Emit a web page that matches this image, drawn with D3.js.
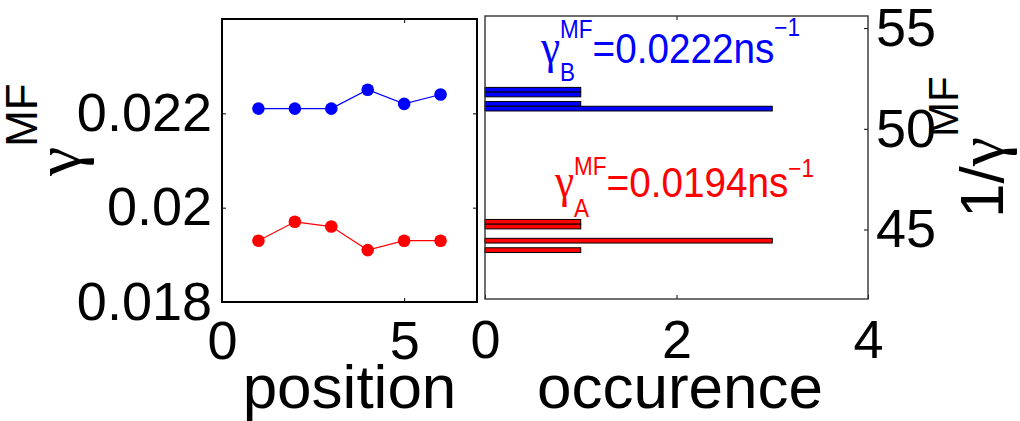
<!DOCTYPE html>
<html>
<head>
<meta charset="utf-8">
<script src="https://cdn.jsdelivr.net/npm/d3@7"></script>
<style>
  body { margin: 0; background: #fff; }
  svg text { font-family: "Liberation Sans", Arial, sans-serif; }
</style>
</head>
<body>
<div id="chart"></div>
<script>
// measured decay rates per position (ns^-1)
const positions = [1, 2, 3, 4, 5, 6];
const gammaB = [0.0221, 0.0221, 0.0221, 0.0225, 0.0222, 0.0224];
const gammaA = [0.0193, 0.0197, 0.0196, 0.0191, 0.0193, 0.0193];

const posTicks = [0, 5];
const gammaTicks = [0.018, 0.02, 0.022];
const countTicks = [0, 2, 4];
const invTicks = [45, 50, 55];

const width = 1020, height = 421;
const FONT = '"Liberation Sans", Arial, sans-serif';
const GREEK = '"Liberation Serif", "DejaVu Serif", serif';

const svg = d3.select('#chart')
  .append('svg')
  .attr('width', width)
  .attr('height', height)
  .attr('viewBox', `0 0 ${width} ${height}`);

// left panel scales
const xPos = d3.scaleLinear().domain([0, 7]).range([222, 477]);
const yGamma = d3.scaleLinear().domain([0.018, 0.024]).range([302, 19]);
// right panel scales
const xCount = d3.scaleLinear().domain([0, 4]).range([485, 868]);
const yInv = d3.scaleLinear().domain([41.55, 55.6]).range([299, 16]);

function styleAxis(g, size) {
  g.attr('font-size', size).attr('font-family', FONT).attr('color', '#000');
  g.select('.domain').remove();
}

// ---- left panel ----
const left = svg.append('g');

left.append('g')
  .attr('transform', 'translate(222,0)')
  .call(d3.axisLeft(yGamma).tickValues(gammaTicks)
    .tickFormat(d => String(+d.toFixed(3)))
    .tickSizeInner(-4).tickSizeOuter(0).tickPadding(10))
  .call(g => styleAxis(g, 54));
left.append('g')
  .attr('transform', 'translate(477,0)')
  .call(d3.axisRight(yGamma).tickValues(gammaTicks).tickFormat('')
    .tickSizeInner(-4).tickSizeOuter(0))
  .call(g => styleAxis(g, 54));
left.append('g')
  .attr('transform', 'translate(0,302)')
  .call(d3.axisBottom(xPos).tickValues(posTicks).tickFormat(d3.format('d'))
    .tickSizeInner(-4).tickSizeOuter(0).tickPadding(19))
  .call(g => styleAxis(g, 54));
left.append('g')
  .attr('transform', 'translate(0,19)')
  .call(d3.axisTop(xPos).tickValues(posTicks).tickFormat('')
    .tickSizeInner(-4).tickSizeOuter(0))
  .call(g => styleAxis(g, 54));

left.append('rect')
  .attr('x', xPos(0)).attr('y', yGamma(0.024))
  .attr('width', xPos(7) - xPos(0))
  .attr('height', yGamma(0.018) - yGamma(0.024))
  .attr('fill', 'none').attr('stroke', '#000').attr('stroke-width', 2);

const series = [
  { values: gammaB, color: '#0000ff' },
  { values: gammaA, color: '#ff0000' }
];

const line = d3.line()
  .x((d, i) => xPos(positions[i]))
  .y(d => yGamma(d));

series.forEach(s => {
  left.append('path')
    .attr('d', line(s.values))
    .attr('fill', 'none')
    .attr('stroke', s.color)
    .attr('stroke-width', 1.2);
  left.selectAll(null)
    .data(s.values)
    .enter()
    .append('circle')
    .attr('cx', (d, i) => xPos(positions[i]))
    .attr('cy', d => yGamma(d))
    .attr('r', 6.3)
    .attr('fill', s.color);
});

// ---- right panel ----
const right = svg.append('g');

right.append('g')
  .attr('transform', 'translate(868,0)')
  .call(d3.axisRight(yInv).tickValues(invTicks)
    .tickSizeInner(-4).tickSizeOuter(0).tickPadding(8))
  .call(g => styleAxis(g, 54));
right.append('g')
  .attr('transform', 'translate(0,299)')
  .call(d3.axisBottom(xCount).tickValues(countTicks).tickFormat(d3.format('d'))
    .tickSizeInner(-4).tickSizeOuter(0).tickPadding(21))
  .call(g => styleAxis(g, 54));
right.append('g')
  .attr('transform', 'translate(0,16)')
  .call(d3.axisTop(xCount).tickValues([2]).tickFormat('')
    .tickSizeInner(-4).tickSizeOuter(0))
  .call(g => styleAxis(g, 54));

const barH = yGamma(0.018) - yGamma(0.0181);
series.forEach(s => {
  const bins = d3.rollups(s.values, v => v.length, d => d)
    .sort((a, b) => a[1] - b[1]);
  right.selectAll(null)
    .data(bins)
    .enter()
    .append('rect')
    .attr('x', xCount(0))
    .attr('y', d => yGamma(d[0]) - barH / 2)
    .attr('width', d => xCount(d[1]) - xCount(0))
    .attr('height', barH)
    .attr('fill', s.color)
    .attr('stroke', '#000')
    .attr('stroke-width', 1);
});

right.append('rect')
  .attr('x', xCount(0)).attr('y', 16)
  .attr('width', xCount(4) - xCount(0))
  .attr('height', 299 - 16)
  .attr('fill', 'none').attr('stroke', '#333').attr('stroke-width', 1.4);

// text with sub/superscripts laid out piece by piece
function richText(parent, pieces, color) {
  let cx = 0, lastStart = 0;
  pieces.forEach(p => {
    const start = p.stack ? lastStart : cx;
    const t = parent.append('text')
      .attr('x', start)
      .attr('y', p.dy || 0)
      .attr('font-size', p.size)
      .attr('fill', color)
      .text(p.t);
    if (p.greek) t.style('font-family', GREEK);
    const end = start + t.node().getComputedTextLength();
    if (!p.stack) lastStart = start;
    cx = p.stack ? Math.max(cx, end) : end;
  });
  return cx;
}

const meanB = d3.mean(gammaB).toFixed(4);
const meanA = d3.mean(gammaA).toFixed(4);

richText(svg.append('g').attr('transform', 'translate(541,63) scale(0.9,1)'), [
  { t: 'γ', size: 48, greek: true },
  { t: 'B', size: 25, dy: 18 },
  { t: 'MF', size: 25, dy: -25, stack: true },
  { t: `=${meanB}ns`, size: 43 },
  { t: '\u22121', size: 25, dy: -27 }
], '#0000ff');

richText(svg.append('g').attr('transform', 'translate(555,197) scale(0.9,1)'), [
  { t: 'γ', size: 48, greek: true },
  { t: 'A', size: 25, dy: 20 },
  { t: 'MF', size: 25, dy: -22, stack: true },
  { t: `=${meanA}ns`, size: 43 },
  { t: '\u22121', size: 25, dy: -20 }
], '#ff0000');

// axis labels
svg.append('text')
  .attr('x', xPos(3.5)).attr('y', 408)
  .attr('text-anchor', 'middle').attr('font-size', 62)
  .text('position');
svg.append('text')
  .attr('x', 680).attr('y', 408)
  .attr('text-anchor', 'middle').attr('font-size', 62)
  .text('occurence');

richText(svg.append('g').attr('transform', 'translate(80,176) rotate(-90)'), [
  { t: 'γ', size: 66, greek: true },
  { t: 'MF', size: 44, dy: -43 }
], '#000');

richText(svg.append('g').attr('transform', 'translate(1003,218) rotate(-90)'), [
  { t: '1/', size: 62 },
  { t: 'γ', size: 66, greek: true },
  { t: 'MF', size: 42, dy: -45 }
], '#000');
</script>
</body>
</html>
